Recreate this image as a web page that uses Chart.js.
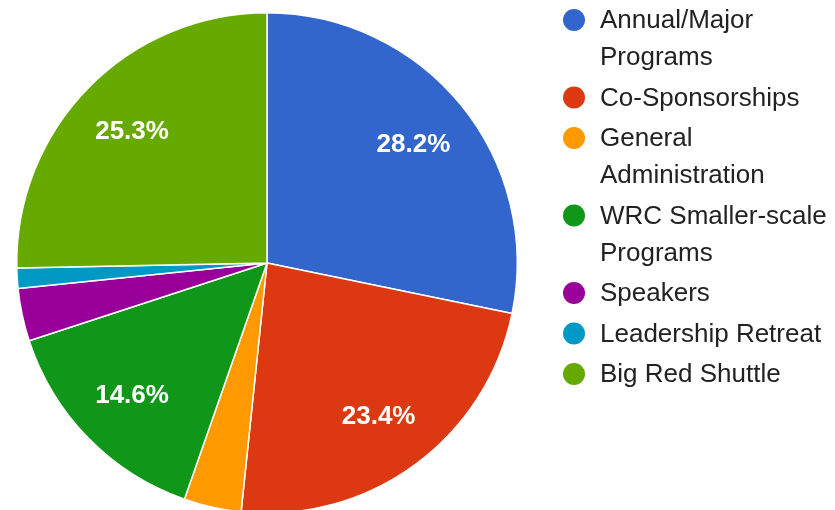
<!DOCTYPE html>
<html>
<head>
<meta charset="utf-8">
<script src="https://cdn.jsdelivr.net/npm/chart.js@4"></script>
<style>
  html, body { margin: 0; padding: 0; background: #fff; overflow: hidden; }
  #wrap { position: relative; width: 835px; height: 526px; }
</style>
</head>
<body>
<div id="wrap"><canvas id="budgetChart"></canvas></div>
<script>
// Budget share by category (percent)
const categories = [
  "Annual/Major Programs",
  "Co-Sponsorships",
  "General Administration",
  "WRC Smaller-scale Programs",
  "Speakers",
  "Leadership Retreat",
  "Big Red Shuttle"
];
const shares = [28.2, 23.4, 3.7, 14.6, 3.4, 1.3, 25.3];
const sliceColors = ["#3366cc", "#dc3912", "#ff9900", "#109618", "#990099", "#0099c6", "#66aa00"];

const FONT = "'Liberation Sans', Arial, sans-serif";

// Percent labels inside the bigger slices
const sliceLabels = {
  id: "sliceLabels",
  afterDatasetsDraw(chart) {
    const ctx = chart.ctx;
    const meta = chart.getDatasetMeta(0);
    const total = meta.total;
    meta.data.forEach((arc, i) => {
      const value = chart.data.datasets[0].data[i];
      const frac = value / total;
      if (frac < 0.05) return;
      const mid = (arc.startAngle + arc.endAngle) / 2;
      const r = arc.outerRadius * 0.755;
      const x = arc.x + Math.cos(mid) * r;
      const y = arc.y + Math.sin(mid) * r;
      ctx.save();
      ctx.font = "bold 26px " + FONT;
      ctx.fillStyle = "#ffffff";
      ctx.textAlign = "center";
      ctx.textBaseline = "middle";
      ctx.fillText((frac * 100).toFixed(1) + "%", x, y + 1);
      ctx.restore();
    });
  }
};

// Legend on the right with wrapped labels
const sideLegend = {
  id: "sideLegend",
  afterDraw(chart) {
    const ctx = chart.ctx;
    const left = 600, maxWidth = 245;
    const lineH = 37, gap = 3.5;
    let y = 20;
    ctx.save();
    ctx.font = "26px " + FONT;
    ctx.textBaseline = "middle";
    chart.data.labels.forEach((label, i) => {
      // word wrap
      const words = label.split(" ");
      const lines = [];
      let line = "";
      words.forEach(w => {
        const test = line ? line + " " + w : w;
        if (line && ctx.measureText(test).width > maxWidth) {
          lines.push(line);
          line = w;
        } else {
          line = test;
        }
      });
      lines.push(line);

      ctx.fillStyle = chart.data.datasets[0].backgroundColor[i];
      ctx.beginPath();
      ctx.arc(574, y, 11, 0, Math.PI * 2);
      ctx.fill();

      ctx.fillStyle = "#222222";
      lines.forEach((t, k) => {
        ctx.fillText(t, left, y + k * lineH + 1);
      });
      y += lines.length * lineH + gap;
    });
    ctx.restore();
  }
};

new Chart(document.getElementById("budgetChart"), {
  type: "pie",
  data: {
    labels: categories,
    datasets: [{
      data: shares,
      backgroundColor: sliceColors,
      borderColor: "#ffffff",
      borderWidth: 1.5,
      hoverOffset: 0
    }]
  },
  options: {
    responsive: true,
    maintainAspectRatio: false,
    animation: false,
    layout: { padding: { left: 16, right: 317, top: 12, bottom: 12 } },
    plugins: {
      legend: { display: false },
      tooltip: { enabled: false }
    }
  },
  plugins: [sliceLabels, sideLegend]
});
</script>
</body>
</html>
